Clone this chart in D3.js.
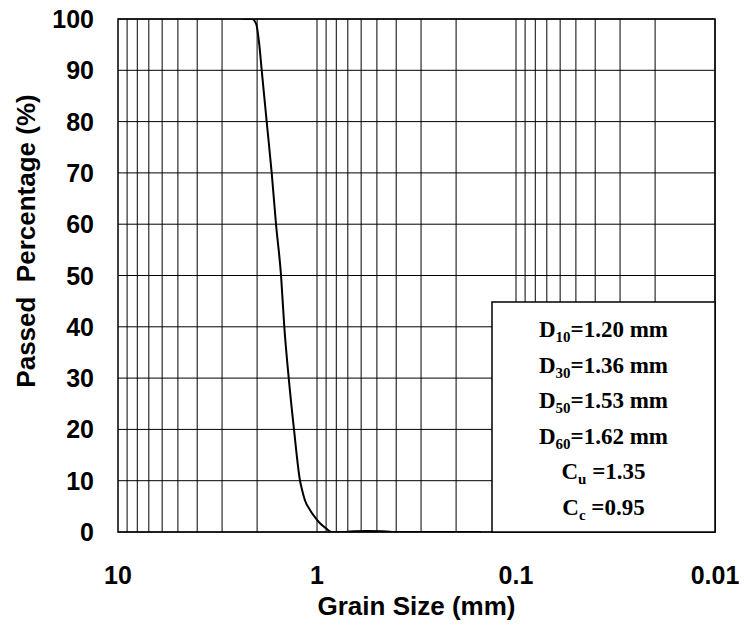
<!DOCTYPE html>
<html>
<head>
<meta charset="utf-8">
<script src="https://cdn.jsdelivr.net/npm/d3@7"></script>
<style>
  body { margin: 0; background: #fff; }
  svg text { font-family: "Liberation Sans", Arial, sans-serif; font-weight: bold; }
</style>
</head>
<body>
<svg id="chart" width="744" height="628"></svg>
<script>
// grain size curve (mm, % passed)
grain_size = [2.36, 2.12, 2.02, 1.95, 1.896, 1.79, 1.689, 1.607, 1.516, 1.46, 1.387, 1.305, 1.217, 1.19, 1.15, 1.085, 1.02, 0.966, 0.90, 0.844, 0.72, 0.65, 0.56, 0.47, 0.42, 0.15]
passed = [100, 100, 99, 95, 90, 80, 70, 60, 50, 40, 30, 20, 10, 8.3, 6.2, 4.3, 2.8, 1.7, 0.7, 0, 0, 0.15, 0.2, 0.15, 0, 0]

y_ticks = [0, 10, 20, 30, 40, 50, 60, 70, 80, 90, 100]
x_ticks = [10, 1, 0.1, 0.01]
x_tick_labels = ["10", "1", "0.1", "0.01"]

// summary box lines: [letter, subscript, rest]
box_lines = [
  ["D", "10", "=1.20 mm"],
  ["D", "30", "=1.36 mm"],
  ["D", "50", "=1.53 mm"],
  ["D", "60", "=1.62 mm"],
  ["C", "u", " =1.35"],
  ["C", "c", " =0.95"]
]

let svg = d3.select("#chart")
let m_left = 118, m_right = 715, m_top = 19, m_bottom = 532

let x = d3.scaleLog().domain([10, 0.01]).range([m_left, m_right])
let y = d3.scaleLinear().domain([0, 100]).range([m_bottom, m_top])

// minor log grid: k * 10^e for each decade
let grid_x = []
for (let e = -2; e < 1; e++) {
  for (let k = 1; k < 10; k++) grid_x.push(k * Math.pow(10, e))
}

svg.append("g")
  .selectAll("line")
  .data(grid_x).enter()
  .append("line")
  .attr("x1", d => x(d)).attr("x2", d => x(d))
  .attr("y1", m_top).attr("y2", m_bottom)
  .attr("stroke", "#000").attr("stroke-width", 1)

svg.append("g")
  .selectAll("line")
  .data(y_ticks).enter()
  .append("line")
  .attr("x1", m_left).attr("x2", m_right)
  .attr("y1", d => y(d)).attr("y2", d => y(d))
  .attr("stroke", "#000").attr("stroke-width", 1)

// curve
svg.append("clipPath").attr("id", "clip")
  .append("rect").attr("x", m_left).attr("y", m_top)
  .attr("width", m_right - m_left).attr("height", m_bottom - m_top)

let pts = grain_size.map((d, i) => [d, passed[i]])
let line_gen = d3.line()
  .x(d => x(d[0]))
  .y(d => y(d[1]))
  .curve(d3.curveMonotoneX)

svg.append("path")
  .attr("d", line_gen(pts))
  .attr("fill", "none")
  .attr("stroke", "#000")
  .attr("stroke-width", 2)
  .attr("clip-path", "url(#clip)")

// plot border
svg.append("rect")
  .attr("x", m_left).attr("y", m_top)
  .attr("width", m_right - m_left).attr("height", m_bottom - m_top)
  .attr("fill", "none").attr("stroke", "#000").attr("stroke-width", 1.5)

// y tick labels
svg.append("g")
  .selectAll("text")
  .data(y_ticks).enter()
  .append("text")
  .attr("x", 94)
  .attr("y", d => y(d))
  .attr("dy", "0.36em")
  .attr("text-anchor", "end")
  .attr("font-size", 25)
  .text(d => d)

// x tick labels
svg.append("g")
  .selectAll("text")
  .data(x_ticks).enter()
  .append("text")
  .attr("x", d => x(d))
  .attr("y", 584)
  .attr("text-anchor", "middle")
  .attr("font-size", 25)
  .text((d, i) => x_tick_labels[i])

// axis titles
svg.append("text")
  .attr("x", (m_left + m_right) / 2)
  .attr("y", 615)
  .attr("text-anchor", "middle")
  .attr("font-size", 26)
  .text("Grain Size (mm)")

svg.append("text")
  .attr("transform", "translate(35, 241) rotate(-90)")
  .attr("text-anchor", "middle")
  .attr("font-size", 26)
  .style("white-space", "pre")
  .text("Passed  Percentage (%)")

// summary box
let bx = 492, by = 302
svg.append("rect")
  .attr("x", bx).attr("y", by)
  .attr("width", m_right - bx).attr("height", m_bottom - by)
  .attr("fill", "#fff").attr("stroke", "#000").attr("stroke-width", 1.5)

let box_text = svg.append("g")
  .selectAll("text")
  .data(box_lines).enter()
  .append("text")
  .attr("x", (bx + m_right) / 2)
  .attr("y", (d, i) => 337 + i * 35.6)
  .attr("text-anchor", "middle")
  .attr("font-size", 23)
  .style("font-family", "'Liberation Serif', 'Times New Roman', serif")
  .style("white-space", "pre")

box_text.append("tspan").text(d => d[0])
box_text.append("tspan").attr("font-size", 15).attr("dy", 5).text(d => d[1])
box_text.append("tspan").attr("dy", -5).text(d => d[2])
</script>
</body>
</html>
